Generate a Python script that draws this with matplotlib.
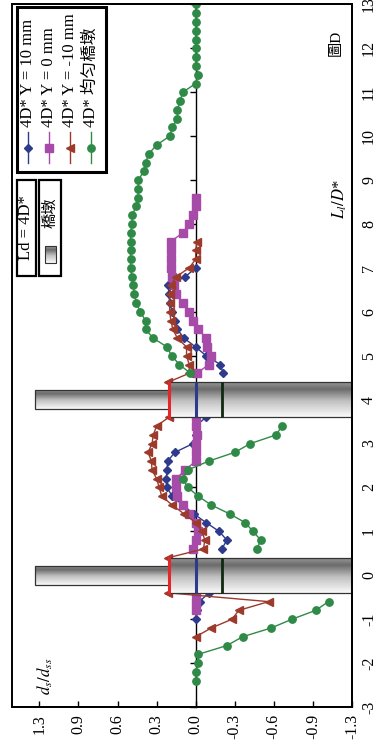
import numpy as np
import matplotlib
matplotlib.use('Agg')
import matplotlib.pyplot as plt
from matplotlib.patches import Rectangle

plt.rcParams['font.family'] = ['Liberation Serif', 'Noto Sans CJK TC']
plt.rcParams['mathtext.fontset'] = 'stix'

nan = np.nan

# ---------------- data (L/D* positions, d_s/d_ss values; nan separates segments)
L_y10 = [-1.0, -0.8, -0.6, -0.4, nan,
         0.6, 0.8, 1.0, 1.2, 1.4, 1.6, 1.8, 2.0, 2.2, 2.4, 2.6, 2.8, 3.0, 3.2, 3.4, 3.6, nan,
         4.6, 4.8, 5.0, 5.2, 5.4, 5.6, 5.8, 6.0, 6.2, 6.4, 6.6, 6.8, 7.0]
d_y10 = [0.0, -0.01, -0.03, -0.10, nan,
         -0.20, -0.24, -0.18, -0.08, 0.015, 0.10, 0.18, 0.22, 0.225, 0.22, 0.215, 0.16, 0.02, 0.0, 0.0, -0.08, nan,
         -0.21, -0.19, -0.08, 0.0, 0.09, 0.14, 0.16, 0.18, 0.20, 0.205, 0.21, 0.08, 0.0]

L_y0 = [-0.8, -0.6, -0.4, nan,
        0.6, 0.8, 1.0, 1.2, 1.4, 1.6, 1.8, 2.0, 2.2, 2.4, 2.6, 2.8, 3.0, 3.2, 3.4, 3.6, nan,
        4.6, 4.8, 5.0, 5.2, 5.4, 5.6, 5.8, 6.0, 6.2, 6.4, 6.6, 6.8, 7.0, 7.2, 7.4, 7.6, 7.8, 8.0, 8.2, 8.4, 8.6]
d_y0 = [0.0, 0.0, 0.0, nan,
        0.02, 0.0, -0.02, 0.0, 0.05, 0.10, 0.14, 0.15, 0.15, 0.08, 0.0, 0.0, 0.0, -0.01, 0.0, 0.0, nan,
        -0.01, -0.10, -0.12, -0.085, -0.08, -0.02, 0.02, 0.055, 0.10, 0.15, 0.17, 0.18, 0.19, 0.19, 0.19, 0.19,
        0.10, 0.05, 0.02, 0.0, 0.0]

L_ym10 = [-1.4, -1.2, -1.0, -0.8, -0.6, -0.4, nan,
          0.4, 0.6, 0.8, 1.0, 1.2, 1.4, 1.6, 1.8, 2.0, 2.2, 2.4, 2.6, 2.8, 3.0, 3.2, 3.4, 3.6, nan,
          4.4, 4.6, 4.8, 5.0, 5.2, 5.4, 5.6, 5.8, 6.0, 6.2, 6.4, 6.6, 6.8, 7.0, 7.2, 7.4, 7.6]
d_ym10 = [0.0, -0.12, -0.28, -0.33, -0.56, 0.21, nan,
          0.21, -0.06, -0.07, -0.05, 0.0, 0.09, 0.18, 0.26, 0.28, 0.30, 0.335, 0.34, 0.365, 0.335, 0.325, 0.30, 0.205, nan,
          0.21, 0.05, 0.05, 0.07, 0.07, 0.14, 0.175, 0.19, 0.20, 0.20, 0.20, 0.19, 0.15, 0.05, 0.0, 0.0, -0.01]

L_uni = [-2.4, -2.2, -2.0, -1.8, -1.6, -1.4, -1.2, -1.0, -0.8, -0.6, nan,
         0.6, 0.8, 1.0, 1.2, 1.4, 1.6, 1.8, 2.0, 2.2, 2.4, 2.6, 2.8, 3.0, 3.2, 3.4, nan,
         4.6, 4.8, 5.0, 5.2, 5.4, 5.6, 5.8, 6.0, 6.2, 6.4, 6.6, 6.8, 7.0, 7.2, 7.4, 7.6, 7.8, 8.0,
         8.2, 8.4, 8.6, 8.8, 9.0, 9.2, 9.4, 9.6, 9.8, 10.0, 10.2, 10.4, 10.6, 10.8, 11.0, 11.2, 11.4,
         11.6, 11.8, 12.0, 12.2, 12.4, 12.6, 12.8, 13.0]
d_uni = [0.0, 0.0, -0.02, -0.02, -0.24, -0.36, -0.58, -0.74, -0.92, -1.02, nan,
         -0.47, -0.50, -0.44, -0.38, -0.26, -0.12, -0.02, 0.06, 0.10, 0.06, -0.10, -0.30, -0.42, -0.62, -0.66, nan,
         0.04, 0.125, 0.185, 0.22, 0.325, 0.385, 0.385, 0.425, 0.455, 0.47, 0.48, 0.49, 0.50, 0.50, 0.50, 0.50,
         0.50, 0.49, 0.485, 0.46, 0.445, 0.44, 0.44, 0.40, 0.385, 0.36, 0.30, 0.20, 0.18, 0.14, 0.14, 0.12,
         0.10, 0.0, -0.02, 0.0, 0.0, 0.0, 0.0, 0.0, 0.0, 0.0, 0.0]

series_labels = ['4D* Y = 10 mm', '4D* Y = 0 mm', '4D* Y = -10 mm', '4D* 均匀橋墩']
x_ticks = [1.2, 0.9, 0.6, 0.3, 0.0, -0.3, -0.6, -0.9, -1.2]
x_ticklabels = ['1.3', '0.9', '0.6', '0.3', '0.0', '-0.3', '-0.6', '-0.9', '-1.3']
y_ticks = list(range(-3, 14))
y_ticklabels = [str(v) for v in y_ticks]

pier_centers = [0, 4]

# ---------------- styling
col_b = '#2E3A8C'
col_m = '#A64BA8'
col_r = '#9C3A2C'
col_g = '#2E8A46'

XL = (1.41, -1.2)
YL = (-3, 13)

fig = plt.figure(figsize=(3.77, 7.52), dpi=100)
ax = fig.add_axes([12/377, 1-707/752, 340/377, 702.5/752])

ax.plot(d_y10, L_y10, color=col_b, lw=1.0, marker='D', ms=4.2, zorder=3)
ax.plot(d_y0, L_y0, color=col_m, lw=1.0, marker='s', ms=5.8, zorder=3)
ax.plot(d_ym10, L_ym10, color=col_r, lw=1.0, marker='<', ms=5.8, zorder=3)
ax.plot(d_uni, L_uni, color=col_g, lw=1.0, marker='o', ms=5.3, zorder=3)

# ---------------- piers (gradient rectangles)
def shade(n):
    t = np.linspace(0, 1, n)
    stops_t = [0.0, 0.45, 0.78, 1.0]
    stops_v = [0.98, 0.75, 0.42, 0.62]
    return np.interp(t, stops_t, stops_v)

grad = shade(200)[:, None]

def grad_rect(x0, x1, y0, y1, z=4):
    im = ax.imshow(grad, extent=[x0, x1, y0, y1], origin='lower', cmap='gray', vmin=0, vmax=1,
                   aspect='auto', zorder=z, interpolation='bilinear')
    r = Rectangle((min(x0, x1), y0), abs(x1 - x0), y1 - y0, fill=False, ec='#333333', lw=0.9, zorder=z + 0.1)
    ax.add_patch(r)
    im.set_clip_path(r)

for c in pier_centers:
    grad_rect(0.205, -1.2, c - 0.4, c + 0.4)
    grad_rect(1.23, 0.205, c - 0.22, c + 0.22)
    ax.plot([0.205, 0.205], [c - 0.43, c + 0.43], color='#E8262A', lw=2.2, zorder=5, solid_capstyle='butt')
    ax.plot([0.0, 0.0], [c - 0.4, c + 0.4], color='#2E3A8C', lw=2.2, zorder=5, solid_capstyle='butt')
    ax.plot([-0.2, -0.2], [c - 0.4, c + 0.4], color='#0E2A12', lw=2.0, zorder=5, solid_capstyle='butt')

ax.set_xlim(*XL)
ax.set_ylim(*YL)

# ---------------- axes / ticks
for s in ['top', 'right', 'bottom']:
    ax.spines[s].set_linewidth(1.2)
ax.spines['left'].set_position(('data', 0))
ax.spines['left'].set_linewidth(1.0)
ax.spines['left'].set_zorder(2)
ax.add_patch(Rectangle((0, 0), 1, 1, transform=ax.transAxes, fill=False, lw=1.4, ec='black',
                       clip_on=False, zorder=10))

ax.set_xticks(x_ticks)
ax.set_xticklabels(x_ticklabels, rotation=90)
ax.tick_params(axis='x', direction='in', length=4, width=1, pad=5, labelsize=11.5)
ax.set_yticks(y_ticks)
ax.set_yticklabels(y_ticklabels)
ax.tick_params(axis='y', left=True, right=False, labelleft=False, labelright=True,
               direction='out', length=4, width=1, pad=2.5, labelsize=11.5, labelrotation=90)
for lbl in ax.get_yticklabels():
    lbl.set_va('center')

# axis titles & annotation
ax.text(0.097, 0.044, r'$d_s/d_{ss}$', transform=ax.transAxes, rotation=90, ha='center', va='center', fontsize=12)
ax.text(0.965, 0.723, r'$L_l/D$*', transform=ax.transAxes, rotation=90, ha='center', va='center', fontsize=12)
ax.text(0.953, 0.945, '圖D', transform=ax.transAxes, rotation=90, ha='center', va='center', fontsize=11)

# ---------------- legend (rotated, drawn manually)
def yf(py):
    return 1 - (py - 4.5) / 702.5

def xf(px):
    return (px - 12) / 340

ax.add_patch(Rectangle((xf(16.7), yf(172)), xf(106) - xf(16.7), yf(7) - yf(172), transform=ax.transAxes,
                       fill=True, fc='white', ec='black', lw=2.2, clip_on=False, zorder=11))
leg_cols = [col_b, col_m, col_r, col_g]
leg_marks = ['D', 's', '<', 'o']
leg_ms = [4.2, 5.8, 5.8, 5.3]
leg_x = [27.7, 49, 70, 90.7]
for lab, c, mk, ms, px in zip(series_labels, leg_cols, leg_marks, leg_ms, leg_x):
    ax.plot([xf(px)] * 3, [yf(163), yf(147.5), yf(132)], transform=ax.transAxes, color=c, lw=1.0,
            marker=mk, ms=ms, markevery=[1], clip_on=False, zorder=12)
    ax.text(xf(px), yf(127), lab, transform=ax.transAxes, rotation=90, ha='center', va='bottom',
            fontsize=12, zorder=12)

# second legend boxes
ax.add_patch(Rectangle((xf(16.7), yf(276)), xf(36) - xf(16.7), yf(180) - yf(276), transform=ax.transAxes,
                       fill=True, fc='white', ec='black', lw=1.6, clip_on=False, zorder=11))
ax.text(xf(26.5), yf(228), 'Ld = 4D*', transform=ax.transAxes, rotation=90, ha='center', va='center',
        fontsize=12, zorder=12)
ax.add_patch(Rectangle((xf(39.3), yf(276)), xf(60.7) - xf(39.3), yf(180) - yf(276), transform=ax.transAxes,
                       fill=True, fc='white', ec='black', lw=1.6, clip_on=False, zorder=11))
ax.text(xf(50), yf(213), '橋墩', transform=ax.transAxes, rotation=90, ha='center', va='center',
        fontsize=11, zorder=12)
icon = Rectangle((xf(44.5), yf(263)), xf(55.5) - xf(44.5), yf(246) - yf(263), transform=ax.transAxes,
                 fill=False, ec='#333333', lw=0.8, zorder=13, clip_on=False)
ax.add_patch(icon)
ic_im = ax.imshow(grad, extent=[0, 1, 0, 1], transform=ax.transAxes, origin='lower', cmap='gray',
                  vmin=0, vmax=1, aspect='auto', zorder=12.5)
ic_im.set_extent([xf(44.5), xf(55.5), yf(263), yf(246)])
ic_im.set_clip_path(icon)
ax.set_xlim(*XL)
ax.set_ylim(*YL)

fig.savefig('out.png', dpi=100)
